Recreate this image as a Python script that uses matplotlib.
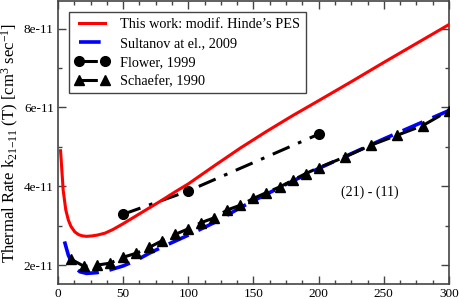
import matplotlib
matplotlib.use("Agg")
import matplotlib.pyplot as plt
from matplotlib.ticker import MultipleLocator, FuncFormatter

plt.rcParams['font.family'] = ['Liberation Serif', 'DejaVu Serif']
plt.rcParams['mathtext.fontset'] = 'custom'
plt.rcParams['mathtext.rm'] = 'Liberation Serif'
plt.rcParams['mathtext.it'] = 'Liberation Serif:italic'

# This work (red)
T_this = [2, 4, 6, 8, 10, 13, 16, 19, 22, 26, 30, 36, 42, 50, 60, 70, 80, 90, 100, 120, 140, 160, 180, 200, 225, 250, 275, 300]
k_this = [4.9, 3.9, 3.4, 3.14, 2.98, 2.84, 2.77, 2.74, 2.73, 2.74, 2.76, 2.81, 2.9, 3.05, 3.25, 3.45, 3.65, 3.86, 4.06, 4.52, 4.97, 5.39, 5.79, 6.17, 6.65, 7.14, 7.62, 8.1]

# Sultanov et al. 2009 (blue dashed)
T_sult = [5, 8, 12, 17, 22, 30, 40, 50, 60, 70, 80, 100, 120, 140, 160, 180, 200, 250, 300]
k_sult = [2.6, 2.25, 1.96, 1.83, 1.79, 1.81, 1.88, 1.98, 2.12, 2.3, 2.46, 2.76, 3.08, 3.46, 3.8, 4.13, 4.45, 5.2, 5.92]

# Flower 1999 (circles, dash-dot)
T_flow = [50, 100, 200]
k_flow = [3.29, 3.88, 5.32]

# Schaefer 1990 (triangles, dashed)
T_scha = [10, 20, 30, 40, 50, 60, 70, 80, 90, 100, 110, 120, 130, 140, 150, 160, 170, 180, 190, 200, 220, 240, 260, 280, 300]
k_scha = [2.15, 1.97, 2.0, 2.05, 2.2, 2.3, 2.45, 2.62, 2.78, 2.92, 3.08, 3.2, 3.4, 3.52, 3.69, 3.84, 3.98, 4.15, 4.32, 4.47, 4.74, 5.04, 5.29, 5.54, 5.92]

xticks = [0, 50, 100, 150, 200, 250, 300]
yticks = [2e-11, 4e-11, 6e-11, 8e-11]

scale = 1e-11
fig = plt.figure(figsize=(4.6, 2.99), dpi=100)
ax = fig.add_axes([0.126, 0.050, 0.850, 0.947])

ax.plot(T_this, [v * scale for v in k_this], color='#ff0000', lw=2.2, label="This work: modif. Hinde\u2019s PES", zorder=4)
ax.plot(T_sult, [v * scale for v in k_sult], color='#0000ff', lw=2.6, dashes=(6, 3), label="Sultanov at el., 2009", zorder=2)
ax.plot(T_flow, [v * scale for v in k_flow], color='black', lw=2.2, dashes=(6, 3, 1.2, 3), marker='o', ms=7, label="Flower, 1999", zorder=3)
ax.plot(T_scha, [v * scale for v in k_scha], color='black', lw=2.2, dashes=(6, 3), marker='^', ms=7, label="Schaefer, 1990", zorder=3)

ax.set_xlim(0, 300)
ax.set_ylim(1.52e-11, 8.7e-11)
ax.set_xticks(xticks)
ax.set_yticks(yticks)
ax.xaxis.set_minor_locator(MultipleLocator(12.5))
ax.yaxis.set_minor_locator(MultipleLocator(1e-11))
ax.yaxis.set_major_formatter(FuncFormatter(lambda v, p: f"{v / 1e-11:.0f}e-11"))
ax.tick_params(which='both', direction='in', top=True, right=True, labelsize=9.5, color='#444444')
ax.tick_params(which='major', length=6, width=1.0, pad=3)
ax.tick_params(which='minor', length=3, width=1.0)
for s in ax.spines.values():
    s.set_color('#444444')
    s.set_linewidth(1.2)

ax.set_ylabel(r"Thermal Rate k$_{21\mathrm{-}11}$ (T) [cm$^{3}$ sec$^{-1}$]", fontsize=12, labelpad=2)
ax.text(239, 3.85e-11, "(21) - (11)", fontsize=10, ha='center', va='center')

leg = ax.legend(loc='upper left', bbox_to_anchor=(0.028, 0.961), borderaxespad=0, fontsize=10.3,
                numpoints=2, handlelength=2.4, handletextpad=0.8, labelspacing=0.42,
                fancybox=False, frameon=True, edgecolor='#444444', framealpha=1)
leg.get_frame().set_linewidth(1.0)

fig.savefig("out.png", dpi=100)
